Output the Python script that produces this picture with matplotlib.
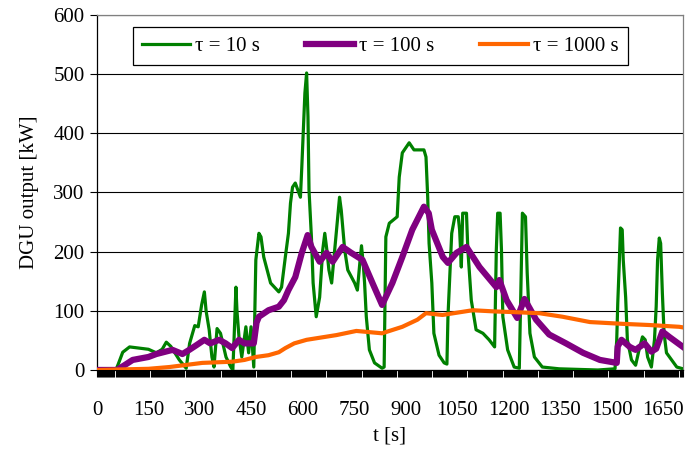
import matplotlib
matplotlib.use("Agg")
import matplotlib.pyplot as plt
from matplotlib.ticker import MultipleLocator

plt.rcParams['font.family'] = ['Liberation Serif', 'DejaVu Serif']

# tau = 10 s
t_10 = [0, 55, 62, 75, 95, 150, 173, 190, 202, 215, 240, 260, 270, 285, 295, 305, 313, 318,
        327, 335, 341, 350, 360, 376, 390, 396, 400, 405, 408, 414, 422, 434, 442, 449, 457,
        463, 472, 478, 486, 506, 530, 538, 549, 558, 564, 570, 578, 588, 593, 597, 606, 611,
        615, 618, 625, 630, 639, 649, 658, 664, 670, 676, 684, 693, 702, 707, 712, 722, 731,
        751, 759, 766, 771, 776, 780, 785, 794, 809, 831, 837, 842, 852, 875, 881, 890, 910,
        924, 953, 959, 964, 968, 976, 982, 997, 1012, 1020, 1023, 1029, 1034, 1043, 1053, 1057,
        1062, 1066, 1077, 1081, 1091, 1105, 1125, 1143, 1159, 1164, 1168, 1175, 1179, 1183,
        1197, 1216, 1231, 1236, 1240, 1249, 1254, 1262, 1275, 1298, 1347, 1460, 1510, 1515,
        1518, 1522, 1526, 1531, 1534, 1541, 1546, 1558, 1570, 1580, 1590, 1598, 1605, 1616,
        1625, 1630, 1634, 1639, 1643, 1648, 1653, 1660, 1675, 1690, 1708]
p_10 = [0, 0, 10, 30, 39, 35, 29, 35, 47, 40, 17, 3, 45, 75, 73, 110, 132, 100,
        68, 22, 5, 70, 62, 22, 5, 0, 60, 140, 100, 55, 22, 73, 29, 73, 5,
        186, 231, 225, 191, 147, 132, 140, 191, 231, 282, 309, 316, 300, 292, 343, 468, 502,
        428, 304, 225, 147, 90, 123, 203, 231, 203, 169, 147, 203, 259, 292, 270, 203, 169,
        147, 135, 180, 210, 180, 147, 90, 34, 12, 3, 5, 225, 248, 259, 326, 367, 384,
        372, 372, 360, 292, 214, 147, 62, 25, 12, 10, 90, 169, 231, 259, 259, 237,
        174, 265, 265, 203, 118, 68, 62, 51, 39, 203, 265, 265, 203, 90,
        34, 5, 3, 147, 265, 259, 164, 62, 22, 5, 2, 0, 2, 51,
        113, 174, 240, 237, 186, 123, 51, 17, 8, 34, 56, 51, 22, 5,
        51, 107, 186, 223, 214, 130, 62, 29, 17, 5, 2]

# tau = 100 s
t_100 = [0, 58, 80, 104, 150, 173, 220, 249, 269, 290, 313, 330, 356, 375, 394, 414, 430,
         457, 465, 472, 500, 530, 545, 558, 578, 597, 614, 625, 649, 669, 687, 716, 741, 774,
         803, 831, 861, 890, 919, 953, 967, 976, 1008, 1023, 1048, 1077, 1115, 1164, 1173,
         1194, 1225, 1246, 1280, 1318, 1367, 1417, 1466, 1515, 1518, 1529, 1553, 1570, 1596,
         1616, 1630, 1648, 1668, 1708]
p_100 = [0, 0, 8, 17, 22, 27, 34, 27, 34, 42, 51, 45, 51, 45, 37, 51, 45,
         45, 80, 90, 101, 107, 118, 135, 157, 198, 228, 208, 183, 198, 183, 208, 198, 186,
         147, 110, 147, 191, 237, 276, 265, 237, 191, 181, 198, 208, 174, 140, 152,
         118, 88, 120, 85, 60, 45, 29, 17, 12, 40, 51, 39, 34, 45,
         31, 36, 65, 56, 39]

# tau = 1000 s
t_1000 = [0, 150, 211, 307, 394, 430, 463, 500, 530, 549, 575, 611, 698, 756, 831, 890, 934,
          959, 1007, 1029, 1095, 1157, 1207, 1289, 1357, 1437, 1532, 1610, 1697, 1708]
p_1000 = [0, 2, 5, 12, 14, 17, 22, 25, 30, 37, 45, 51, 59, 66, 62, 73, 85,
          96, 93, 95, 101, 99, 98, 96, 90, 81, 78, 76, 73, 72]

x_ticks = [0, 150, 300, 450, 600, 750, 900, 1050, 1200, 1350, 1500, 1650]
y_ticks = [0, 100, 200, 300, 400, 500, 600]

fig = plt.figure(figsize=(6.85, 4.5), dpi=100)
ax = fig.add_axes([0.1416, 0.1778, 0.8554, 0.7889])

ax.plot(t_10, p_10, color='#008000', lw=2.3, label='τ = 10 s', solid_joinstyle='round', zorder=3)
ax.plot(t_100, p_100, color='#800080', lw=4.5, label='τ = 100 s', solid_joinstyle='round', zorder=4)
ax.plot(t_1000, p_1000, color='#FF6600', lw=3.0, label='τ = 1000 s', zorder=5)

ax.set_xlim(0, 1708)
ax.set_ylim(0, 600)
ax.set_xticks(x_ticks)
ax.set_yticks(y_ticks)
ax.xaxis.set_minor_locator(MultipleLocator(3))
ax.tick_params(axis='x', which='both', direction='out', length=5, width=0.8, pad=17, labelsize=15)
ax.tick_params(axis='y', which='major', direction='out', length=5, width=0.8, pad=4, labelsize=15)

ax.yaxis.grid(True, color='black', lw=0.8)
ax.set_axisbelow(True)
for s in ['top', 'right']:
    ax.spines[s].set_color('#808080')
    ax.spines[s].set_linewidth(0.9)
ax.spines['left'].set_linewidth(0.9)
ax.spines['bottom'].set_linewidth(0.9)

ax.set_xlabel('t [s]', fontsize=15, labelpad=5)
ax.set_ylabel('DGU output [kW]', fontsize=15, labelpad=10)

leg = ax.legend(loc='upper center', bbox_to_anchor=(0.5555, 0.94), bbox_transform=fig.transFigure,
                ncol=3, fontsize=15, frameon=True, fancybox=False, edgecolor='black',
                handlelength=2.3, handletextpad=0.25, columnspacing=2.2, borderpad=0.45,
                borderaxespad=0)
leg.get_frame().set_linewidth(0.9)
leg.get_frame().set_alpha(1)

fig.savefig('out.png', dpi=100)
